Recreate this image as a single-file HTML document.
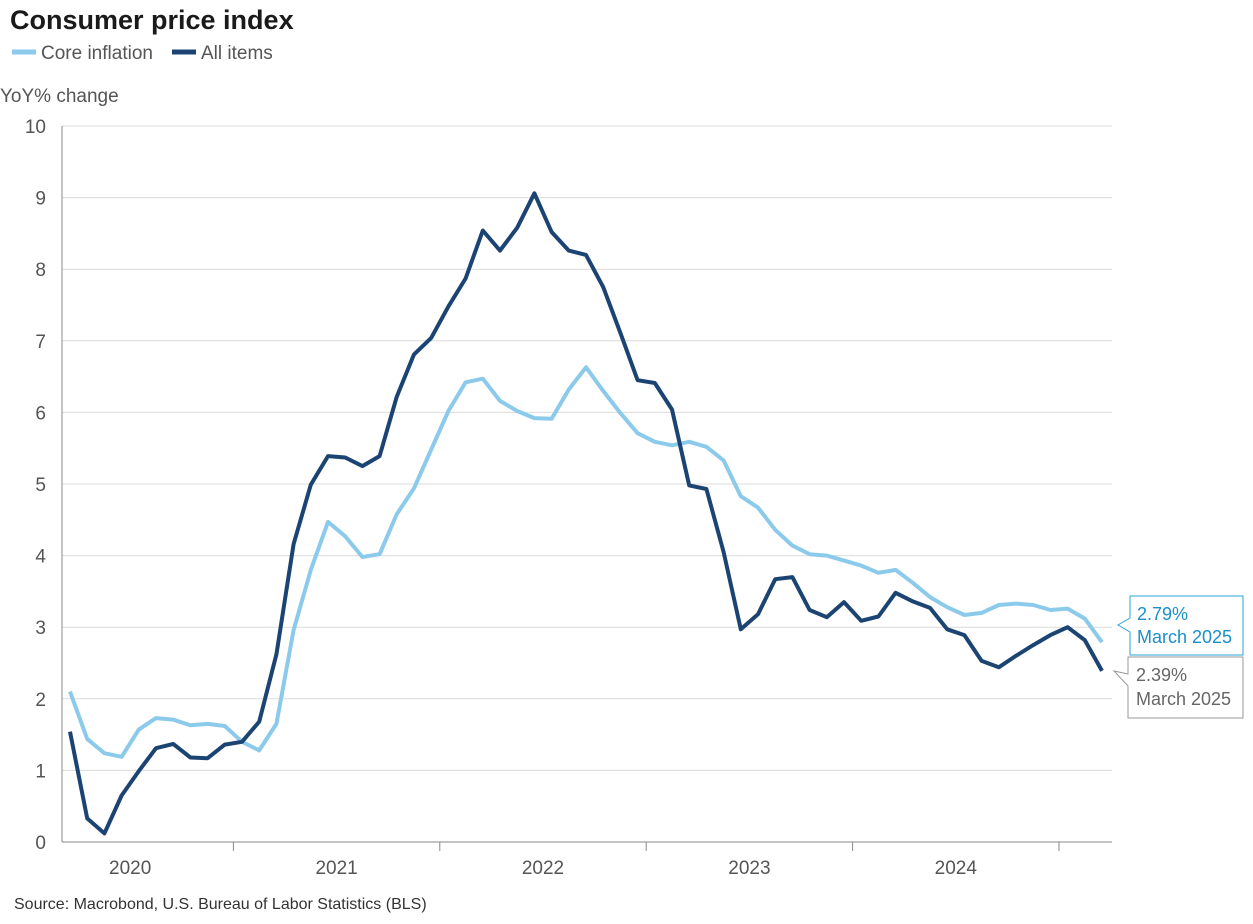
<!DOCTYPE html>
<html><head><meta charset="utf-8"><style>
body{margin:0;background:#fff;font-family:"Liberation Sans",sans-serif}
svg text{font-family:"Liberation Sans",sans-serif}
</style></head><body>
<svg id="chart" width="1253" height="919" viewBox="0 0 1253 919">
<text x="10" y="29" font-size="27" font-weight="bold" fill="#1a1a1a">Consumer price index</text>
<g>
<g><line x1="12" y1="52" x2="36" y2="52" stroke="#8ccaec" stroke-width="5"/><text x="41" y="59" font-size="19" fill="#555">Core inflation</text></g>
<g><line x1="172" y1="52" x2="196" y2="52" stroke="#1c4473" stroke-width="5"/><text x="201" y="59" font-size="19" fill="#555">All items</text></g>
</g>
<text x="0" y="102" font-size="19" fill="#555">YoY% change</text>
<g id="grid"></g><g id="ticks"></g><g id="lines"></g>
<g>
<path d="M1130 596 H1243 V655 H1130 V632 L1118 625 L1130 618 Z" fill="#fff" stroke="#2aa3d8" stroke-width="1"/>
<text x="1137" y="620" font-size="18" fill="#1a8fc9">2.79%</text>
<text x="1137" y="643" font-size="18" fill="#1a8fc9">March 2025</text>
</g>
<g>
<path d="M1128 657 H1243 V718 H1128 V686 L1114 671 L1128 674 Z" fill="#fff" stroke="#999" stroke-width="1"/>
<text x="1136" y="681" font-size="18" fill="#666">2.39%</text>
<text x="1136" y="705" font-size="18" fill="#666">March 2025</text>
</g>
<text x="14" y="909" font-size="16" fill="#333">Source: Macrobond, U.S. Bureau of Labor Statistics (BLS)</text>
</svg>
<script>
const yTicks=[0,1,2,3,4,5,6,7,8,9,10];
const years=["2020","2021","2022","2023","2024"];
const allItems=[1.54,0.33,0.12,0.65,0.99,1.31,1.37,1.18,1.17,1.36,1.40,1.68,2.62,4.16,4.99,5.39,5.37,5.25,5.39,6.22,6.81,7.04,7.48,7.87,8.54,8.26,8.58,9.06,8.52,8.26,8.20,7.75,7.11,6.45,6.41,6.04,4.98,4.93,4.05,2.97,3.18,3.67,3.70,3.24,3.14,3.35,3.09,3.15,3.48,3.36,3.27,2.97,2.89,2.53,2.44,2.60,2.75,2.89,3.00,2.82,2.39];
const core=[2.10,1.44,1.24,1.19,1.57,1.73,1.71,1.63,1.65,1.62,1.40,1.28,1.65,2.96,3.80,4.47,4.27,3.98,4.02,4.58,4.94,5.48,6.02,6.42,6.47,6.16,6.02,5.92,5.91,6.32,6.63,6.30,5.99,5.71,5.59,5.54,5.59,5.52,5.33,4.83,4.67,4.36,4.14,4.02,4.00,3.93,3.86,3.76,3.80,3.62,3.42,3.28,3.17,3.20,3.31,3.33,3.31,3.24,3.26,3.12,2.79];
const NS="http://www.w3.org/2000/svg";
const y=v=>842-v*71.6;
const x=i=>70+i*17.2;
const L=62,R=1112;
function mk(t,a,p){const e=document.createElementNS(NS,t);for(const k in a)e.setAttribute(k,a[k]);p.appendChild(e);return e;}
const grid=document.getElementById('grid'),ticks=document.getElementById('ticks'),lines=document.getElementById('lines');
yTicks.forEach(v=>{
 const g=mk('line',{x1:L,x2:R,y1:y(v),y2:y(v),stroke:v===0?'#888':'#dcdcdc','stroke-width':1},grid);
 
 
 const t=mk('text',{x:46,y:y(v)+7,'font-size':19,fill:'#555','text-anchor':'end'},ticks);t.textContent=v;
 
 
});
mk('line',{x1:L,x2:L,y1:y(10),y2:y(0),stroke:'#888'},grid);
years.forEach((yr,k)=>{
 const start=-2.5+k*12, end=start+12;
 if(k>0){const tk=mk('line',{x1:x(start),x2:x(start),y1:842,y2:851,stroke:'#888'},ticks);
 
 }
 const c=(x(start)+x(end))/2;
 const t=mk('text',{x:c,y:874,'font-size':19,fill:'#555','text-anchor':'middle'},ticks);t.textContent=yr;
 
 
});
mk('line',{x1:x(57.5),x2:x(57.5),y1:842,y2:851,stroke:'#888'},ticks);
function path(d,c,n){const p=mk('path',{d:d.map((v,i)=>(i?'L':'M')+x(i).toFixed(1)+' '+y(v).toFixed(1)).join(''),fill:'none',stroke:c,'stroke-width':4,'stroke-linejoin':'round'},lines);
 
 }
path(core,'#8ccaec','core-inflation-line');
path(allItems,'#1c4473','all-items-line');
</script>
</body></html>
